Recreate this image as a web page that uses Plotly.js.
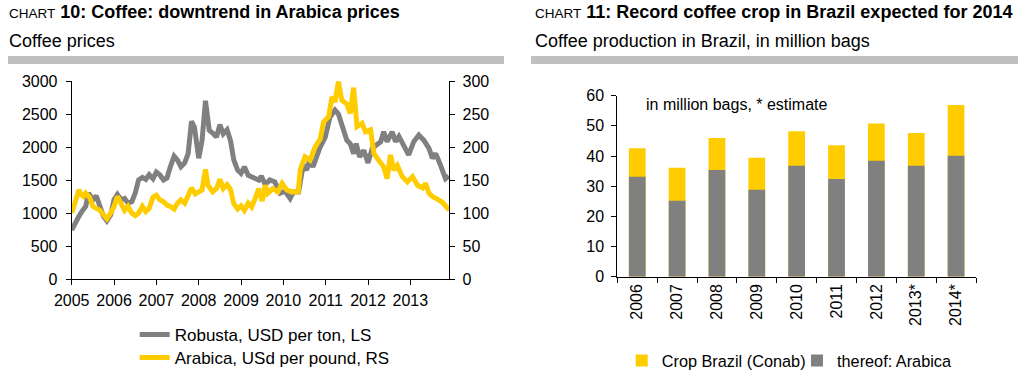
<!DOCTYPE html>
<html>
<head>
<meta charset="utf-8">
<script src="https://cdn.plot.ly/plotly-3.0.1.min.js"></script>
<style>
html,body{margin:0;padding:0;background:#fff;}
#chart{width:1031px;height:375px;}
</style>
</head>
<body>
<div id="chart"></div>
<script>
// ---------- Chart 10: coffee prices (decimal years) ----------
var robustaX = [2005.00,2005.04,2005.08,2005.17,2005.25,2005.33,2005.40,2005.46,2005.50,2005.58,2005.67,2005.75,2005.83,2005.92,
  2006.00,2006.08,2006.17,2006.25,2006.33,2006.42,2006.50,2006.58,2006.67,2006.75,2006.83,2006.92,
  2007.00,2007.08,2007.17,2007.25,2007.33,2007.42,2007.50,2007.58,2007.67,2007.75,2007.83,2007.90,
  2008.00,2008.08,2008.16,2008.25,2008.33,2008.42,2008.50,2008.58,2008.67,2008.75,2008.83,2008.92,
  2009.00,2009.08,2009.17,2009.25,2009.33,2009.42,2009.48,2009.57,2009.68,2009.80,2009.92,
  2010.04,2010.16,2010.24,2010.36,2010.42,2010.47,2010.55,2010.62,2010.70,2010.78,2010.87,2010.99,
  2011.10,2011.22,2011.30,2011.42,2011.50,2011.58,2011.66,2011.72,2011.80,2011.90,
  2012.00,2012.10,2012.18,2012.30,2012.37,2012.45,2012.57,2012.65,2012.73,2012.85,2012.96,
  2013.08,2013.20,2013.32,2013.44,2013.52,2013.60,2013.71,2013.83,2013.91];
var robustaUSDperTon = [740,800,850,950,1030,1100,1300,1230,1200,1260,1100,950,880,970,
  1200,1280,1200,1220,1150,1170,1300,1500,1540,1510,1580,1520,
  1620,1580,1500,1530,1700,1860,1800,1700,1760,1900,2390,2300,
  1830,2100,2700,2250,2210,2150,2340,2200,2260,2100,1800,1650,
  1600,1700,1570,1550,1510,1500,1560,1430,1500,1470,1300,
  1330,1220,1320,1320,1600,1730,1650,1800,1700,1850,2000,2150,
  2450,2560,2500,2260,2100,2050,1900,2050,1850,1950,
  1760,1980,2030,2080,2230,2080,2230,2080,2160,2000,1880,
  2080,2180,2100,1980,1830,1900,1730,1520,1560];

var arabicaX = [2005.00,2005.05,2005.10,2005.17,2005.22,2005.28,2005.33,2005.42,2005.50,2005.58,2005.67,2005.75,2005.83,2005.92,
  2006.00,2006.08,2006.17,2006.25,2006.33,2006.42,2006.50,2006.58,2006.67,2006.75,2006.83,2006.92,
  2007.00,2007.08,2007.17,2007.25,2007.33,2007.42,2007.50,2007.58,2007.67,2007.75,2007.83,2007.92,
  2008.00,2008.08,2008.16,2008.22,2008.33,2008.42,2008.50,2008.58,2008.67,2008.75,2008.83,2008.92,
  2009.00,2009.08,2009.17,2009.25,2009.33,2009.42,2009.50,2009.57,2009.63,2009.75,2009.87,2009.97,
  2010.08,2010.20,2010.35,2010.40,2010.51,2010.63,2010.75,2010.87,2010.95,
  2011.07,2011.15,2011.22,2011.30,2011.38,2011.50,2011.58,2011.66,2011.74,2011.86,2011.94,
  2012.06,2012.14,2012.25,2012.37,2012.45,2012.53,2012.61,2012.69,2012.81,2012.93,
  2013.05,2013.17,2013.29,2013.36,2013.44,2013.52,2013.64,2013.76,2013.88,2013.92];
var arabicaUScPerLb = [100,108,120,135,128,125,130,124,110,107,104,97,91,100,
  110,125,115,104,110,100,96,100,110,102,107,124,
  127,120,117,112,110,106,115,120,115,125,138,129,
  132,135,166,142,132,137,151,137,143,136,114,106,
  111,104,115,109,121,137,118,142,130,137,132,145,
  135,132,132,166,185,180,200,212,238,
  246,276,268,299,271,265,251,290,231,236,223,
  226,190,180,170,152,188,165,172,155,147,
  155,142,138,145,130,125,121,116,107,109];

var yearTicks = [2005,2006,2007,2008,2009,2010,2011,2012,2013];
var yearTickLabels = ["2005","2006","2007","2008","2009","2010","2011","2012","2013"];

// ---------- Chart 11: coffee production in Brazil ----------
var cropYears = ["2006","2007","2008","2009","2010","2011","2012","2013*","2014*"];
var cropBrazilConab = [42.6,36.1,46.0,39.4,48.2,43.6,50.8,47.6,56.9];
var thereofArabica = [33.1,25.2,35.4,28.8,36.8,32.4,38.4,36.8,40.1];

var W = 1031, H = 375;
function px(x){ return x / W; }
function py(y){ return 1 - y / H; }

var FONT = "Liberation Sans, Arial, sans-serif";
var GREY = "#808080", YELLOW = "#FFCC00";

var traces = [
  {type:"scatter", mode:"lines", x:robustaX, y:robustaUSDperTon, xaxis:"x", yaxis:"y",
   name:"Robusta, USD per ton, LS", line:{color:GREY, width:5}, legend:"legend"},
  {type:"scatter", mode:"lines", x:arabicaX, y:arabicaUScPerLb, xaxis:"x", yaxis:"y2",
   name:"Arabica, USd per pound, RS", line:{color:YELLOW, width:5}, legend:"legend2"},
  {type:"bar", x:cropYears, y:cropBrazilConab, xaxis:"x2", yaxis:"y3",
   name:"Crop Brazil (Conab)", marker:{color:YELLOW, line:{width:0}}, width:0.42, legend:"legend3"},
  {type:"bar", x:cropYears, y:thereofArabica, xaxis:"x2", yaxis:"y3",
   name:"thereof: Arabica", marker:{color:GREY, line:{width:0}}, width:0.42, legend:"legend4"}
];

var axisCommon = {showgrid:false, zeroline:false, showline:true, linecolor:"#000", linewidth:1,
  ticks:"outside", ticklen:5, tickcolor:"#000", tickwidth:1, fixedrange:true};

function legendAt(textX, centerY, size){
  return {x:px(textX-40), xanchor:"left", y:py(centerY), yanchor:"middle",
    bgcolor:"rgba(0,0,0,0)", borderwidth:0, font:{family:FONT, size:size, color:"#000"}};
}

var layout = {
  width:W, height:H,
  margin:{l:0, r:0, t:0, b:0, pad:0, autoexpand:false},
  paper_bgcolor:"#fff", plot_bgcolor:"rgba(0,0,0,0)",
  font:{family:FONT, color:"#000", size:16},
  barmode:"overlay",
  showlegend:true,
  xaxis: Object.assign({}, axisCommon, {domain:[px(71.7), px(449.3)], anchor:"y",
    type:"linear", range:[2005, 2013.92], tickvals:yearTicks, ticktext:yearTickLabels,
    tickfont:{family:FONT, size:16, color:"#000"}, ticklabelstandoff:2}),
  yaxis: Object.assign({}, axisCommon, {domain:[py(279), py(81)], anchor:"x",
    range:[0,3000], dtick:500, tick0:0, tickfont:{family:FONT, size:16, color:"#000"}, ticklabelstandoff:5}),
  yaxis2: Object.assign({}, axisCommon, {overlaying:"y", side:"right", anchor:"x",
    range:[0,300], dtick:50, tick0:0, tickfont:{family:FONT, size:16, color:"#000"}, ticklabelstandoff:4}),
  xaxis2: Object.assign({}, axisCommon, {domain:[px(617.3), px(976)], anchor:"y3",
    type:"category", tickson:"boundaries", tickangle:-90,
    tickfont:{family:FONT, size:16, color:"#000"}}),
  yaxis3: Object.assign({}, axisCommon, {domain:[py(276.7), py(95.7)], anchor:"x2",
    range:[0,60], dtick:10, tick0:0, tickfont:{family:FONT, size:16, color:"#000"}, ticklabelstandoff:4}),
  legend: legendAt(174.7, 335, 17),
  legend2: legendAt(174.7, 358, 17),
  legend3: legendAt(661.7, 361, 16.3),
  legend4: legendAt(837, 361, 16.3),
  shapes:[
    {type:"rect", xref:"paper", yref:"paper", x0:px(8), x1:px(504), y0:py(64), y1:py(56),
     fillcolor:"#C0C0C0", line:{width:0}},
    {type:"rect", xref:"paper", yref:"paper", x0:px(531), x1:px(1018), y0:py(64), y1:py(56),
     fillcolor:"#C0C0C0", line:{width:0}}
  ],
  annotations:[
    {xref:"paper", yref:"paper", x:px(7), y:py(12), xanchor:"left", yanchor:"middle", showarrow:false,
     text:"<span style='font-size:13.5px'>CHART</span> <b>10: Coffee: downtrend in Arabica prices</b>",
     font:{family:FONT, size:18, color:"#000"}},
    {xref:"paper", yref:"paper", x:px(7), y:py(41), xanchor:"left", yanchor:"middle", showarrow:false,
     text:"Coffee prices", font:{family:FONT, size:18, color:"#000"}},
    {xref:"paper", yref:"paper", x:px(533), y:py(12), xanchor:"left", yanchor:"middle", showarrow:false,
     text:"<span style='font-size:13.5px'>CHART</span> <b>11: Record coffee crop in Brazil expected for 2014</b>",
     font:{family:FONT, size:18, color:"#000"}},
    {xref:"paper", yref:"paper", x:px(533), y:py(41), xanchor:"left", yanchor:"middle", showarrow:false,
     text:"Coffee production in Brazil, in million bags", font:{family:FONT, size:18, color:"#000"}},
    {xref:"paper", yref:"paper", x:px(644), y:py(104), xanchor:"left", yanchor:"middle", showarrow:false,
     text:"in million bags, * estimate", font:{family:FONT, size:16, color:"#000"}}
  ]
};

Plotly.newPlot("chart", traces, layout, {staticPlot:true, displayModeBar:false});
</script>
</body>
</html>
